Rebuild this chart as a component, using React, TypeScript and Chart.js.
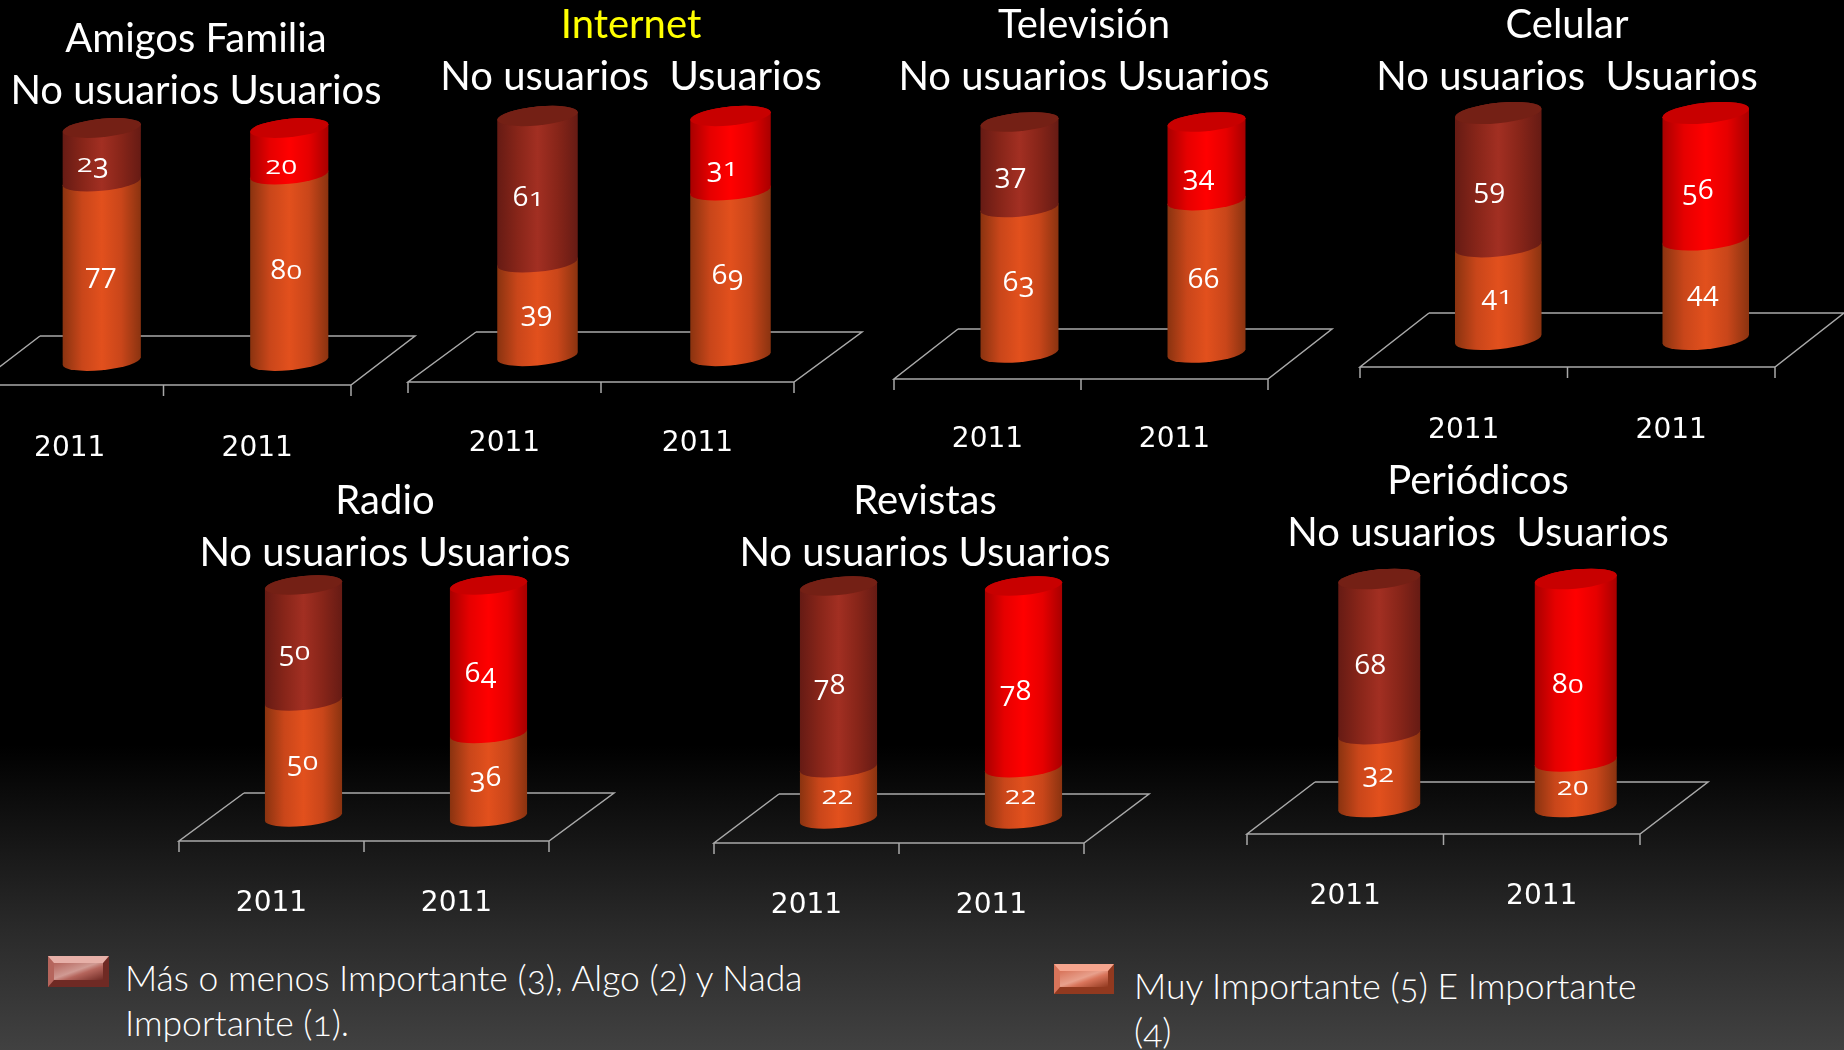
import React, { useEffect, useRef } from "react";
import Chart from "chart.js/auto";

const categories = ["2011", "2011"];
const panelNames = ["Amigos Familia", "Internet", "Televisión", "Celular", "Radio", "Revistas", "Periódicos"];
const subtitles = [
  "No usuarios Usuarios",
  "No usuarios  Usuarios",
  "No usuarios Usuarios",
  "No usuarios  Usuarios",
  "No usuarios Usuarios",
  "No usuarios Usuarios",
  "No usuarios  Usuarios",
];
const amigosMuy = [77, 80];
const amigosMas = [23, 20];
const internetMuy = [39, 69];
const internetMas = [61, 31];
const televisionMuy = [63, 66];
const televisionMas = [37, 34];
const celularMuy = [41, 44];
const celularMas = [59, 56];
const radioMuy = [50, 36];
const radioMas = [50, 64];
const revistasMuy = [22, 22];
const revistasMas = [78, 78];
const periodicosMuy = [32, 20];
const periodicosMas = [68, 80];
const muySeries = [amigosMuy, internetMuy, televisionMuy, celularMuy, radioMuy, revistasMuy, periodicosMuy];
const masSeries = [amigosMas, internetMas, televisionMas, celularMas, radioMas, revistasMas, periodicosMas];
const seriesNames = ["Muy Importante (5) E Importante (4)", "Más o menos Importante (3), Algo (2) y Nada Importante (1)."];

// Layout of each panel in page pixels (no data here).
const frames = [
  { x0: -24, x1: 351, front: 385, dx: 64, dy: 49, top: 128, base: 361, titleX: 196, titleY: 39, labelY: 446, tilt: 0.094, barOff: 32 },
  { x0: 408, x1: 794, front: 382, dx: 68, dy: 50, top: 116, base: 356, titleX: 631, titleY: 25, labelY: 441, tilt: 0.094, barOff: 33 },
  { x0: 894, x1: 1268, front: 379, dx: 64, dy: 50, top: 122, base: 353, titleX: 1084, titleY: 25, labelY: 437, tilt: 0.094, barOff: 32 },
  { x0: 1360, x1: 1775, front: 367, dx: 69, dy: 54, top: 113, base: 339, titleX: 1567, titleY: 25, labelY: 428, tilt: 0.1, barOff: 34.5 },
  { x0: 179, x1: 549, front: 841, dx: 65, dy: 48, top: 585, base: 817, titleX: 385, titleY: 501, labelY: 901, tilt: 0.094, barOff: 32 },
  { x0: 714, x1: 1084, front: 843, dx: 65, dy: 49, top: 586, base: 819, titleX: 925, titleY: 501, labelY: 903, tilt: 0.094, barOff: 32 },
  { x0: 1247, x1: 1640, front: 834, dx: 68, dy: 52, top: 579, base: 807, titleX: 1478, titleY: 481, labelY: 894, tilt: 0.094, barOff: 34 },
];

const TITLE_LINE = 52;
const SCALE_H = 110;
const TITLE_FONT = "Lato";
const TITLE_SIZE = 40;

const ORANGE = ["#8a3310", "#c9461a", "#e2501d", "#c9461a", "#8a3310"];
const DARK = ["#661b14", "#872519", "#a22f22", "#872519", "#661b14"];
const RED = ["#a80000", "#e60000", "#ff0000", "#e60000", "#a80000"];

function oldStyleNumber(ctx, text, cx, cy, size) {
  // Old-style figures: 0 1 2 sit at x-height, 3 4 5 7 9 descend, 6 8 ascend.
  ctx.save();
  ctx.font = `400 ${size}px "Open Sans"`;
  ctx.fillStyle = "#ffffff";
  ctx.textBaseline = "alphabetic";
  ctx.textAlign = "left";
  const w = ctx.measureText(text).width;
  let x = cx - w / 2;
  const xh = size * 0.5;
  const baseY = cy + xh / 2;
  for (const ch of text) {
    const adv = ctx.measureText(ch).width;
    ctx.save();
    if ("012".includes(ch)) {
      ctx.translate(x, baseY);
      ctx.scale(1, 0.74);
      ctx.fillText(ch, 0, 0);
    } else if ("34579".includes(ch)) {
      ctx.fillText(ch, x, baseY + size * 0.21);
    } else {
      ctx.fillText(ch, x, baseY);
    }
    ctx.restore();
    x += adv;
  }
  ctx.restore();
}

function cylinderPath(ctx, a, b, yTop, yBot) {
  ctx.beginPath();
  ctx.ellipse(0, yBot, a, b, 0, 0, Math.PI);
  ctx.lineTo(-a, yTop);
  ctx.ellipse(0, yTop, a, b, 0, Math.PI, 2 * Math.PI);
  ctx.closePath();
}

function drawSegment(ctx, cx, a, yTop, yBot, stops, tilt, cap) {
  const b = a * 0.235;
  ctx.save();
  ctx.translate(cx, 0);
  ctx.transform(1, -tilt, 0, 1, 0, 0);
  const g = ctx.createLinearGradient(-a, 0, a, 0);
  const pos = [0, 0.25, 0.5, 0.75, 1];
  stops.forEach((c, i) => g.addColorStop(pos[i], c));
  cylinderPath(ctx, a, b, yTop, yBot);
  ctx.fillStyle = g;
  ctx.fill();
  if (cap) {
    ctx.beginPath();
    ctx.ellipse(0, yTop, a, b, 0, 0, 2 * Math.PI);
    ctx.fillStyle = cap;
    ctx.fill();
  }
  ctx.restore();
}

const cylinderPlugin = {
  id: "cylinders",
  beforeDatasetsDraw(chart, _a, opts) {
    const { ctx, chartArea } = chart;
    const f = opts.frame;
    const xs = chart.scales.x;
    const step = xs.getPixelForTick(1) - xs.getPixelForTick(0);
    const frontY = chartArea.bottom + (f.front - f.base);
    const left = chartArea.left;
    const right = chartArea.right;
    ctx.save();
    ctx.strokeStyle = "#a9a9a9";
    ctx.lineWidth = 1.5;
    ctx.beginPath();
    ctx.moveTo(left + f.dx, frontY - f.dy);
    ctx.lineTo(right + f.dx, frontY - f.dy);
    ctx.lineTo(right, frontY);
    ctx.lineTo(left, frontY);
    ctx.lineTo(left + f.dx, frontY - f.dy);
    [left, left + step, right].forEach((x) => {
      ctx.moveTo(x, frontY);
      ctx.lineTo(x, frontY + 11);
    });
    ctx.stroke();
    ctx.restore();

    const low = chart.getDatasetMeta(0).data;
    const up = chart.getDatasetMeta(1).data;
    low.forEach((el, i) => {
      const cx = el.x + f.barOff;
      drawSegment(ctx, cx, el.width / 2, el.y, el.base, ORANGE, f.tilt, null);
      const u = up[i];
      const isUser = i === 1;
      drawSegment(ctx, cx, u.width / 2, u.y, u.base, isUser ? RED : DARK, f.tilt, isUser ? "#c80000" : "#742015");
    });
  },
  beforeDatasetDraw() {
    return false;
  },
  afterDatasetsDraw(chart, _a, opts) {
    const { ctx } = chart;
    const f = opts.frame;
    [0, 1].forEach((d) => {
      const meta = chart.getDatasetMeta(d);
      const values = chart.data.datasets[d].data;
      meta.data.forEach((el, i) => {
        const mid = (el.y + el.base) / 2;
        let ox = -1;
        let oy = 4;
        if (d === 0 && i === 1) ox = -3;
        if (d === 1 && i === 0) {
          ox = -9;
          oy = 10;
        }
        if (d === 1 && i === 1) {
          ox = -8;
          oy = 16;
        }
        oldStyleNumber(ctx, String(values[i]), el.x + f.barOff + ox, mid + oy, 28);
      });
    });
  },
};

function Panel({ index }) {
  const ref = useRef(null);
  const f = frames[index];
  const half = Math.max(f.titleX - f.x0, f.x1 + f.dx - f.titleX, 200) + 10;
  const canvasTop = f.titleY - TITLE_LINE / 2;
  const canvasLeft = f.titleX - half;
  const height = f.base + SCALE_H - canvasTop;
  useEffect(() => {
    const hiddenAxis = {
      display: true,
      min: 0,
      max: 100,
      stacked: true,
      ticks: { display: false },
      grid: { display: false, drawTicks: false },
      border: { display: false },
    };
    const leftW = f.x0 - canvasLeft;
    const rightW = canvasLeft + half * 2 - f.x1;
    const chart = new Chart(ref.current, {
      type: "bar",
      data: {
        labels: categories,
        datasets: [
          { label: seriesNames[0], data: muySeries[index], backgroundColor: "#e2501d", categoryPercentage: 1, barPercentage: 0.417 },
          { label: seriesNames[1], data: masSeries[index], backgroundColor: ["#a22f22", "#ff0000"], categoryPercentage: 1, barPercentage: 0.417 },
        ],
      },
      options: {
        responsive: false,
        animation: false,
        events: [],
        layout: { padding: 0 },
        scales: {
          x: {
            stacked: true,
            grid: { display: false, drawTicks: true, tickLength: f.labelY - f.base - 14 },
            border: { display: false },
            ticks: {
              color: "#ffffff",
              font: { family: "DejaVu Sans", size: 28 },
              padding: 0,
              maxRotation: 0,
              autoSkip: false,
            },
            afterFit: (s) => {
              s.height = SCALE_H;
            },
          },
          y: {
            ...hiddenAxis,
            position: "left",
            afterFit: (s) => {
              s.width = leftW;
            },
          },
          yRight: {
            ...hiddenAxis,
            type: "linear",
            position: "right",
            afterFit: (s) => {
              s.width = rightW;
            },
          },
        },
        plugins: {
          legend: { display: false },
          tooltip: { enabled: false },
          title: {
            display: true,
            text: panelNames[index],
            color: index === 1 ? "#ffff00" : "#ffffff",
            font: { family: TITLE_FONT, size: TITLE_SIZE, weight: "400", lineHeight: TITLE_LINE / TITLE_SIZE },
            padding: 0,
          },
          subtitle: {
            display: true,
            text: subtitles[index],
            color: "#ffffff",
            font: { family: TITLE_FONT, size: TITLE_SIZE, weight: "400", lineHeight: TITLE_LINE / TITLE_SIZE },
            padding: { top: 0, bottom: f.top - canvasTop - TITLE_LINE * 2 },
          },
          cylinders: { frame: f },
        },
      },
      plugins: [cylinderPlugin],
    });
    return () => chart.destroy();
  }, []);
  return (
    <canvas
      ref={ref}
      width={half * 2}
      height={height}
      style={{ position: "absolute", left: canvasLeft, top: canvasTop, width: half * 2, height }}
    />
  );
}

function Swatch({ left, top, w, h, light, mid, sheen, dark }) {
  return (
    <div
      style={{
        position: "absolute",
        left,
        top,
        width: w,
        height: h,
        boxSizing: "border-box",
        borderStyle: "solid",
        borderWidth: "7px 6px",
        borderTopColor: light,
        borderLeftColor: mid,
        borderRightColor: dark,
        borderBottomColor: dark,
        background: `linear-gradient(160deg, ${mid}, ${sheen} 45%, ${mid} 60%, ${dark})`,
      }}
    />
  );
}

const legendText = {
  position: "absolute",
  color: "#fff",
  fontFamily: "Lato",
  fontWeight: 300,
  fontSize: 35.5,
  lineHeight: "45px",
  whiteSpace: "nowrap",
  fontVariantNumeric: "oldstyle-nums",
};

export default function App() {
  return (
    <div
      style={{
        position: "relative",
        width: 1844,
        height: 1050,
        overflow: "hidden",
        background: "linear-gradient(180deg,#000 0,#000 745px,#2a2a2a 930px,#414141 1050px)",
      }}
    >
      <style>{`html,body{margin:0;padding:0;overflow:hidden;background:#000}`}</style>
      {frames.map((_, i) => (
        <Panel key={i} index={i} />
      ))}
      <Swatch left={48} top={956} w={61} h={31} light="#e7b0a8" mid="#b5655c" sheen="#d09a93" dark="#6f2a24" />
      <Swatch left={1054} top={964} w={60} h={30} light="#f5a58e" mid="#d8745a" sheen="#e8a08c" dark="#91391f" />
      <div style={{ ...legendText, left: 125, top: 955 }}>
        Más o menos Importante (3), Algo (2) y Nada
        <br />
        Importante (1).
      </div>
      <div style={{ ...legendText, left: 1134, top: 963 }}>
        Muy Importante (5) E Importante
        <br />
        (4)
      </div>
    </div>
  );
}
